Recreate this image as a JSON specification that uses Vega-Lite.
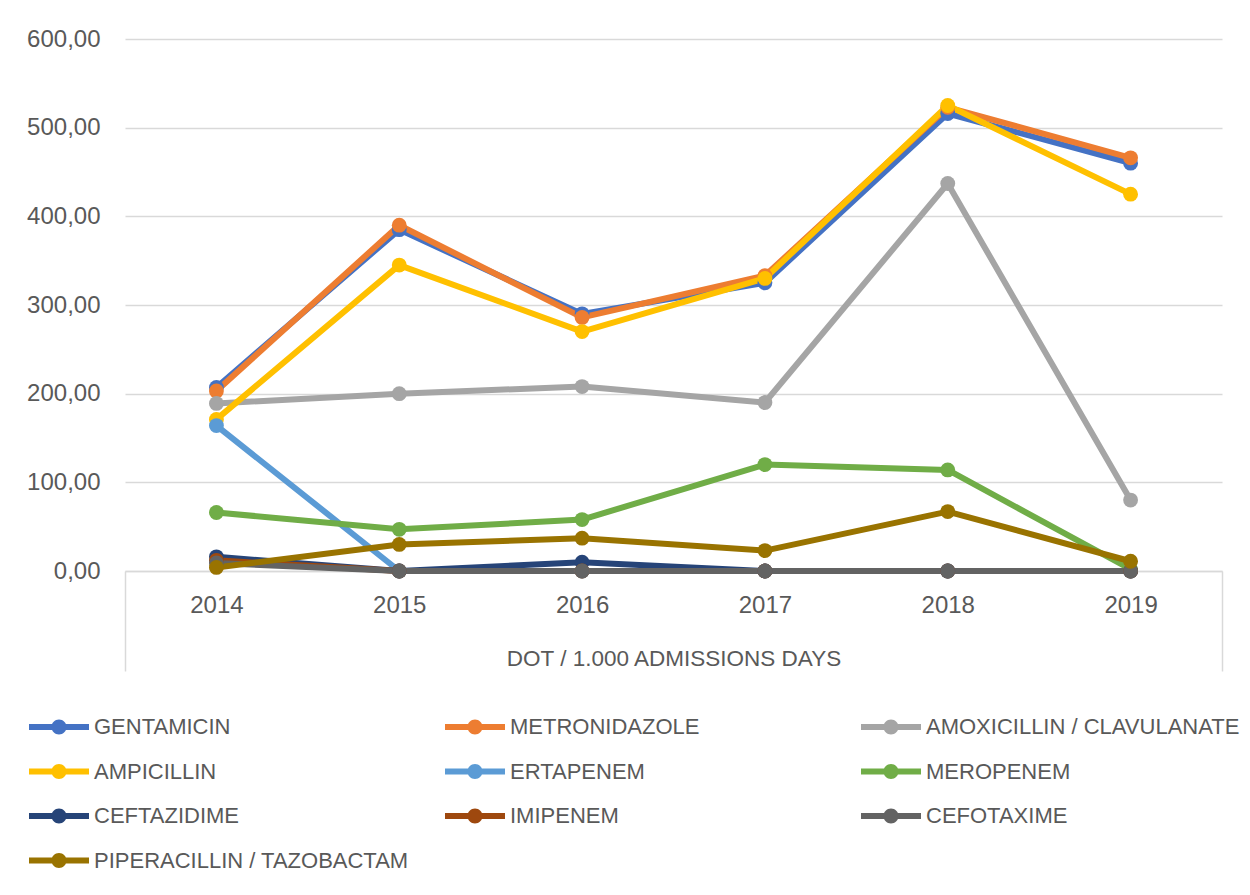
{
  "$schema": "https://vega.github.io/schema/vega-lite/v6.json",
  "width": 1097,
  "height": 532,
  "autosize": {"type": "none"},
  "padding": {"left": 125, "top": 39, "right": 28, "bottom": 324},
  "background": "white",
  "config": {"view": {"stroke": null}, "font": "Liberation Sans"},
  "data": {
    "values": [
      {"drug": "GENTAMICIN", "year": 2014, "value": 207},
      {"drug": "GENTAMICIN", "year": 2015, "value": 385},
      {"drug": "GENTAMICIN", "year": 2016, "value": 290},
      {"drug": "GENTAMICIN", "year": 2017, "value": 325},
      {"drug": "GENTAMICIN", "year": 2018, "value": 516},
      {"drug": "GENTAMICIN", "year": 2019, "value": 460},
      {"drug": "METRONIDAZOLE", "year": 2014, "value": 203},
      {"drug": "METRONIDAZOLE", "year": 2015, "value": 390},
      {"drug": "METRONIDAZOLE", "year": 2016, "value": 286},
      {"drug": "METRONIDAZOLE", "year": 2017, "value": 333},
      {"drug": "METRONIDAZOLE", "year": 2018, "value": 523},
      {"drug": "METRONIDAZOLE", "year": 2019, "value": 466},
      {"drug": "AMOXICILLIN / CLAVULANATE", "year": 2014, "value": 189},
      {"drug": "AMOXICILLIN / CLAVULANATE", "year": 2015, "value": 200},
      {"drug": "AMOXICILLIN / CLAVULANATE", "year": 2016, "value": 208},
      {"drug": "AMOXICILLIN / CLAVULANATE", "year": 2017, "value": 190},
      {"drug": "AMOXICILLIN / CLAVULANATE", "year": 2018, "value": 437},
      {"drug": "AMOXICILLIN / CLAVULANATE", "year": 2019, "value": 80},
      {"drug": "AMPICILLIN", "year": 2014, "value": 171},
      {"drug": "AMPICILLIN", "year": 2015, "value": 345},
      {"drug": "AMPICILLIN", "year": 2016, "value": 270},
      {"drug": "AMPICILLIN", "year": 2017, "value": 330},
      {"drug": "AMPICILLIN", "year": 2018, "value": 525},
      {"drug": "AMPICILLIN", "year": 2019, "value": 425},
      {"drug": "ERTAPENEM", "year": 2014, "value": 164},
      {"drug": "ERTAPENEM", "year": 2015, "value": 0},
      {"drug": "ERTAPENEM", "year": 2016, "value": 0},
      {"drug": "ERTAPENEM", "year": 2017, "value": 0},
      {"drug": "ERTAPENEM", "year": 2018, "value": 0},
      {"drug": "ERTAPENEM", "year": 2019, "value": 0},
      {"drug": "MEROPENEM", "year": 2014, "value": 66},
      {"drug": "MEROPENEM", "year": 2015, "value": 47},
      {"drug": "MEROPENEM", "year": 2016, "value": 58},
      {"drug": "MEROPENEM", "year": 2017, "value": 120},
      {"drug": "MEROPENEM", "year": 2018, "value": 114},
      {"drug": "MEROPENEM", "year": 2019, "value": 2},
      {"drug": "CEFTAZIDIME", "year": 2014, "value": 16},
      {"drug": "CEFTAZIDIME", "year": 2015, "value": 0},
      {"drug": "CEFTAZIDIME", "year": 2016, "value": 10},
      {"drug": "CEFTAZIDIME", "year": 2017, "value": 0},
      {"drug": "CEFTAZIDIME", "year": 2018, "value": 0},
      {"drug": "CEFTAZIDIME", "year": 2019, "value": 0},
      {"drug": "IMIPENEM", "year": 2014, "value": 12},
      {"drug": "IMIPENEM", "year": 2015, "value": 0},
      {"drug": "IMIPENEM", "year": 2016, "value": 0},
      {"drug": "IMIPENEM", "year": 2017, "value": 0},
      {"drug": "IMIPENEM", "year": 2018, "value": 0},
      {"drug": "IMIPENEM", "year": 2019, "value": 0},
      {"drug": "CEFOTAXIME", "year": 2014, "value": 9},
      {"drug": "CEFOTAXIME", "year": 2015, "value": 0},
      {"drug": "CEFOTAXIME", "year": 2016, "value": 0},
      {"drug": "CEFOTAXIME", "year": 2017, "value": 0},
      {"drug": "CEFOTAXIME", "year": 2018, "value": 0},
      {"drug": "CEFOTAXIME", "year": 2019, "value": 0},
      {"drug": "PIPERACILLIN / TAZOBACTAM", "year": 2014, "value": 4},
      {"drug": "PIPERACILLIN / TAZOBACTAM", "year": 2015, "value": 30},
      {"drug": "PIPERACILLIN / TAZOBACTAM", "year": 2016, "value": 37},
      {"drug": "PIPERACILLIN / TAZOBACTAM", "year": 2017, "value": 23},
      {"drug": "PIPERACILLIN / TAZOBACTAM", "year": 2018, "value": 67},
      {"drug": "PIPERACILLIN / TAZOBACTAM", "year": 2019, "value": 11}
    ]
  },
  "encoding": {
    "y": {
      "field": "value",
      "type": "quantitative",
      "scale": {"domain": [0, 600], "nice": false, "zero": true},
      "axis": {
        "values": [0, 100, 200, 300, 400, 500, 600],
        "labelExpr": "replace(format(datum.value, '.2f'), '.', ',')",
        "labelFontSize": 24,
        "labelColor": "#595959",
        "labelPadding": 25,
        "ticks": false,
        "tickSize": 0,
        "domain": false,
        "grid": true,
        "gridColor": "#D9D9D9",
        "gridWidth": 1.5,
        "title": null
      }
    },
    "color": {
      "field": "drug",
      "type": "nominal",
      "scale": {
        "domain": ["GENTAMICIN", "METRONIDAZOLE", "AMOXICILLIN / CLAVULANATE", "AMPICILLIN", "ERTAPENEM", "MEROPENEM", "CEFTAZIDIME", "IMIPENEM", "CEFOTAXIME", "PIPERACILLIN / TAZOBACTAM"],
        "range": ["#4472C4", "#ED7D31", "#A5A5A5", "#FFC000", "#5B9BD5", "#70AD47", "#264478", "#9E480E", "#636363", "#997300"]
      },
      "legend": {
        "title": null,
        "orient": "none",
        "direction": "horizontal",
        "legendX": -77,
        "legendY": 677,
        "columns": 3,
        "gridAlign": "all",
        "columnPadding": 36,
        "rowPadding": 22.5,
        "padding": 0,
        "symbolType": "M-3,-0.3L3,-0.3L3,0.3L-3,0.3Z M0,-0.75A0.75,0.75 0 1,1 0,0.75A0.75,0.75 0 1,1 0,-0.75Z",
        "symbolSize": 400,
        "symbolStrokeWidth": 0,
        "labelFontSize": 22,
        "labelColor": "#595959",
        "labelOffset": 24,
        "labelLimit": 600,
        "encode": {
          "symbols": {
            "update": {
              "fill": {"scale": "color", "field": "value"},
              "stroke": {"value": "transparent"},
              "opacity": {"value": 1}
            }
          }
        }
      }
    }
  },
  "layer": [
    {
      "mark": {"type": "line", "strokeWidth": 6, "strokeJoin": "round"},
      "encoding": {
        "x": {
          "field": "year",
          "type": "quantitative",
          "scale": {"domain": [2013.5, 2019.5], "nice": false, "zero": false},
          "axis": {
            "orient": "bottom",
            "values": [2014, 2015, 2016, 2017, 2018, 2019],
            "format": "d",
            "labelFontSize": 24,
            "labelColor": "#595959",
            "labelPadding": 22,
            "labelFlush": false,
            "labelOverlap": false,
            "ticks": false,
            "tickSize": 0,
            "domain": true,
            "domainColor": "#D9D9D9",
            "domainWidth": 1.5,
            "grid": false,
            "title": "DOT / 1.000 ADMISSIONS DAYS",
            "titleFontSize": 22.5,
            "titleFontWeight": "normal",
            "titleColor": "#595959",
            "titlePadding": 30
          }
        }
      }
    },
    {
      "mark": {"type": "point", "filled": true, "size": 220, "opacity": 1},
      "encoding": {
        "x": {
          "field": "year",
          "type": "quantitative",
          "scale": {"domain": [2013.5, 2019.5], "nice": false, "zero": false},
          "axis": {
            "orient": "bottom",
            "values": [2013.5, 2019.5],
            "labels": false,
            "ticks": true,
            "tickSize": 100,
            "tickColor": "#D9D9D9",
            "tickWidth": 1.5,
            "domain": false,
            "grid": false,
            "title": null
          }
        }
      }
    }
  ],
  "resolve": {"axis": {"x": "independent"}}
}
